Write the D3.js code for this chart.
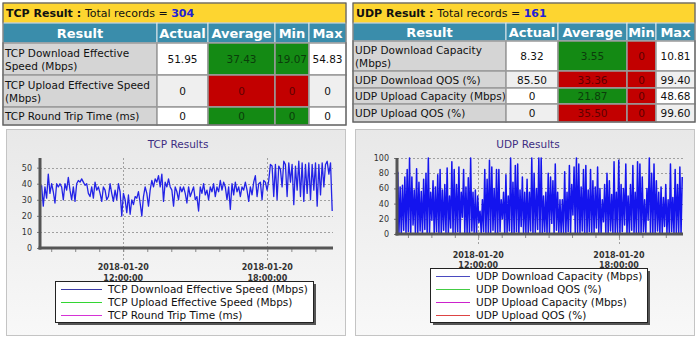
<!DOCTYPE html>
<html><head><meta charset="utf-8">
<script src="https://cdn.jsdelivr.net/npm/d3@7"></script>
<style>html,body{margin:0;padding:0;background:#fff;} svg{display:block;font-family:"DejaVu Sans",Verdana,sans-serif;}</style>
</head><body><svg id="c" width="700" height="340"></svg>
<script>
// ---------------- DATA ----------------
const headers = ["Result", "Actual", "Average", "Min", "Max"];
const tcpTotal = 304, udpTotal = 161;
const tcpLabels = [["TCP Download Effective", "Speed (Mbps)"], ["TCP Upload Effective Speed", "(Mbps)"], ["TCP Round Trip Time (ms)"]];
const tcpActual = ["51.95", "0", "0"];
const tcpAverage = ["37.43", "0", "0"];
const tcpMin = ["19.07", "0", "0"];
const tcpMax = ["54.83", "0", "0"];
const tcpAvgStatus = ["good", "bad", "good"];
const tcpMinStatus = ["good", "bad", "good"];

const udpLabels = [["UDP Download Capacity", "(Mbps)"], ["UDP Download QOS (%)"], ["UDP Upload Capacity (Mbps)"], ["UDP Upload QOS (%)"]];
const udpActual = ["8.32", "85.50", "0", "0"];
const udpAverage = ["3.55", "33.36", "21.87", "35.50"];
const udpMin = ["0", "0", "0", "0"];
const udpMax = ["10.81", "99.40", "48.68", "99.60"];
const udpAvgStatus = ["good", "bad", "good", "bad"];
const udpMinStatus = ["bad", "bad", "bad", "bad"];

const tcpSeries = ["TCP Download Effective Speed (Mbps)", "TCP Upload Effective Speed (Mbps)", "TCP Round Trip Time (ms)"];
const udpSeries = ["UDP Download Capacity (Mbps)", "UDP Download QOS (%)", "UDP Upload Capacity (Mbps)", "UDP Upload QOS (%)"];
const tcpYTicks = [0, 10, 20, 30, 40, 50];
const udpYTicks = [0, 20, 40, 60, 80, 100];
const xTickLabels = [["2018-01-20", "12:00:00"], ["2018-01-20", "18:00:00"]];
const xTickTimes = ["2018-01-20 12:00:00", "2018-01-20 18:00:00"];
const timeDomain = ["2018-01-20 08:32:00", "2018-01-20 20:44:00"];
const tcpFirst = "2018-01-20 08:36:00", tcpLast = "2018-01-20 20:42:00";
const udpFirst = "2018-01-20 08:34:00", udpLast = "2018-01-20 20:42:00";

const tcpDownload = [
 39,26,38,31,46,34,40,35,28,40,38,40,38,30,40,36,44,36,30,38,29,40,42,41,43,41,39,40,34,32,
 38,31,41,36,38,34,29,38,36,30,32,40,34,29,36,30,40,35,20,34,30,22,33,21,30,27,32,
 31,35,28,20,32,38,34,26,36,42,38,43,41,45,38,46,29,41,38,43,38,36,26,38,35,30,38,35,38,34,
 28,38,32,35,38,30,32,23,38,34,40,33,36,30,38,35,40,32,38,35,42,36,41,38,30,38,24,40,33,41,
 35,38,32,38,36,41,
 36,29,38,33,41,45,32,40,41,30,42,41,36,42,
 52,51,32,52,30,51,49,38,54,52,32,53,41,52,27,51,36,54,32,53,29,52,34,53,30,52,36,53,26,52,
 33,53,38,52,54,46,53,23
];

const udpValues = [
 82,2, 62,0, 64,5, 75,1, 85,3, 100,0, 75,12, 58,2, 86,0, 68,4,
 56,1, 72,6, 80,0, 100,2, 55,18, 70,0, 62,3, 78,1, 85,0, 58,5,
 65,2, 87,0, 50,8, 95,1, 85,0, 65,3, 88,0, 55,22, 85,2, 62,1,
 74,0, 100,4, 55,2, 58,0, 50,15, 30,1, 45,3, 85,0, 72,2, 97,0,
 88,5, 60,1, 85,0, 85,3, 45,20, 55,0, 78,2, 50,4, 100,1, 68,0,
 90,3, 92,0, 58,10, 75,2, 55,1, 72,0, 55,4, 100,0, 80,2, 60,6,
 100,0, 100,1, 50,3, 55,0, 80,2, 75,14, 70,0, 92,5, 55,1, 45,0,
 45,2, 82,0, 55,3, 90,1, 65,25, 88,0, 100,2, 92,0, 62,4, 85,1,
 90,0, 58,3, 85,0, 70,2, 62,8, 88,1, 60,0, 45,16, 65,2, 80,0,
 70,4, 52,1, 95,0, 55,2, 97,0, 65,3, 60,12, 92,0, 50,1, 65,5,
 90,0, 55,2, 95,1, 92,0, 75,3, 45,0, 60,18, 100,2, 80,0, 92,1,
 70,4, 55,0, 62,2, 48,10, 65,1, 45,0, 92,3, 48,0, 85,2, 65,1,
 88,0, 75
];

// ---------------- DRAWING ----------------
const svg = d3.select("#c");
const defs = svg.append("defs");
const grad = defs.append("linearGradient").attr("id", "pg").attr("x1", 0).attr("y1", 0).attr("x2", 0).attr("y2", 1);
grad.append("stop").attr("offset", "0%").attr("stop-color", "#e8e8e8");
grad.append("stop").attr("offset", "100%").attr("stop-color", "#f8f8f8");
const parse = d3.timeParse("%Y-%m-%d %H:%M:%S");

const statusFill = { good: "#148a14", bad: "#c20000" };
const statusText = { good: "#0b3d0b", bad: "#5e0000" };

function drawTable(cfg) {
  const g = svg.append("g");
  const c = cfg.cols, x0 = c[0], x1 = c[c.length - 1];
  g.append("rect").attr("x", x0).attr("y", cfg.title[0]).attr("width", x1 - x0).attr("height", cfg.title[1] - cfg.title[0])
    .attr("fill", "#fdd530").attr("stroke", "#a9a07a").attr("stroke-width", 1);
  const t = g.append("text").attr("x", x0 + 3).attr("y", (cfg.title[0] + cfg.title[1]) / 2 + 4).attr("font-size", 11).attr("fill", "#111");
  t.append("tspan").attr("font-weight", "bold").text(cfg.name + " Result : ");
  t.append("tspan").text("Total records = ");
  t.append("tspan").attr("font-weight", "bold").attr("fill", "#2121d6").text(cfg.total);

  const hy0 = cfg.title[1], hy1 = cfg.rows[0];
  const hdr = g.selectAll(".h").data(headers).enter().append("g");
  hdr.append("rect").attr("x", (d, i) => c[i]).attr("y", hy0).attr("width", (d, i) => c[i + 1] - c[i]).attr("height", hy1 - hy0)
    .attr("fill", "#3a8dab").attr("stroke", "#dfe8ec").attr("stroke-width", 1);
  hdr.append("text").attr("x", (d, i) => (c[i] + c[i + 1]) / 2).attr("y", (hy0 + hy1) / 2 + 5)
    .attr("text-anchor", "middle").attr("font-size", 13).attr("font-weight", "bold").attr("fill", "#fff").text(d => d);

  const vals = [cfg.actual, cfg.average, cfg.min, cfg.max];
  const stat = [null, cfg.avgStatus, cfg.minStatus, null];
  cfg.labels.forEach((lab, r) => {
    const y0 = cfg.rows[r], y1 = cfg.rows[r + 1], mid = (y0 + y1) / 2;
    const plain = r % 2 === 0 ? "#ffffff" : "#efefef";
    g.append("rect").attr("x", c[0]).attr("y", y0).attr("width", c[1] - c[0]).attr("height", y1 - y0)
      .attr("fill", "#d5d5d5").attr("stroke", "#9a9a9a").attr("stroke-width", 1.5);
    const lt = g.append("text").attr("font-size", 10.5).attr("fill", "#111");
    lab.forEach((line, li) => {
      lt.append("tspan").attr("x", c[0] + 2).attr("y", mid + 4 - (lab.length - 1) * 6.5 + li * 13).text(line);
    });
    vals.forEach((col, k) => {
      const s = stat[k] ? stat[k][r] : null;
      g.append("rect").attr("x", c[k + 1]).attr("y", y0).attr("width", c[k + 2] - c[k + 1]).attr("height", y1 - y0)
        .attr("fill", s ? statusFill[s] : plain).attr("stroke", "#9a9a9a").attr("stroke-width", 1.5);
      g.append("text").attr("x", (c[k + 1] + c[k + 2]) / 2).attr("y", mid + 4).attr("text-anchor", "middle")
        .attr("font-size", 10.5).attr("fill", s ? statusText[s] : "#111").text(col[r]);
    });
  });
  g.append("rect").attr("x", x0).attr("y", cfg.title[0]).attr("width", x1 - x0).attr("height", cfg.rows[cfg.rows.length - 1] - cfg.title[0])
    .attr("fill", "none").attr("stroke", "#5a5a5a").attr("stroke-width", 1);
}

drawTable({ name: "TCP", total: tcpTotal, cols: [3, 157, 208, 275, 309, 346], title: [3, 23], rows: [43, 75, 107, 125],
  labels: tcpLabels, actual: tcpActual, average: tcpAverage, min: tcpMin, max: tcpMax, avgStatus: tcpAvgStatus, minStatus: tcpMinStatus });
drawTable({ name: "UDP", total: udpTotal, cols: [353, 506, 558, 627, 656, 695], title: [3, 23], rows: [41, 71, 88, 104, 122],
  labels: udpLabels, actual: udpActual, average: udpAverage, min: udpMin, max: udpMax, avgStatus: udpAvgStatus, minStatus: udpMinStatus });

function drawChart(cfg) {
  const g = svg.append("g");
  const p = cfg.panel;
  g.append("rect").attr("x", p[0] + 0.5).attr("y", p[1] + 0.5).attr("width", p[2]).attr("height", p[3])
    .attr("fill", "url(#pg)").attr("stroke", "#c4c4c4");
  g.append("text").attr("x", cfg.titleX).attr("y", 148).attr("text-anchor", "middle").attr("font-size", 10.5)
    .attr("fill", "#3d2d82").text(cfg.title);

  const x = d3.scaleTime().domain(timeDomain.map(parse)).range([cfg.left, cfg.right]);
  const y = d3.scaleLinear().domain(cfg.yDomain).range([cfg.bottom, cfg.top]);

  g.selectAll(".hg").data(cfg.yTicks.filter(v => v > 0)).enter().append("line")
    .attr("x1", cfg.left).attr("x2", cfg.right).attr("y1", d => Math.round(y(d)) + 0.5).attr("y2", d => Math.round(y(d)) + 0.5)
    .attr("stroke", "#a0a0a0").attr("stroke-dasharray", "2,2");
  g.selectAll(".vg").data(xTickTimes).enter().append("line")
    .attr("x1", d => Math.round(x(parse(d))) + 0.5).attr("x2", d => Math.round(x(parse(d))) + 0.5)
    .attr("y1", cfg.top).attr("y2", cfg.bottom + 12)
    .attr("stroke", "#a0a0a0").attr("stroke-dasharray", "2,2");

  const t0 = parse(cfg.first).getTime(), t1 = parse(cfg.last).getTime();
  const n = cfg.values.length;
  const pts = cfg.values.map((v, i) => ({ t: new Date(t0 + (t1 - t0) * i / (n - 1)), v }));
  g.append("path").datum(pts)
    .attr("d", d3.line().x(d => x(d.t)).y(d => y(d.v)))
    .attr("fill", "none").attr("stroke", cfg.lineColor).attr("stroke-width", cfg.lineWidth).attr("stroke-linejoin", "round");

  const ya = g.append("g").attr("transform", `translate(${cfg.left},0)`)
    .call(d3.axisLeft(y).tickValues(cfg.yTicks).tickSize(3).tickPadding(5));
  ya.select(".domain").remove();
  ya.selectAll(".tick line").attr("stroke", "#777");
  ya.selectAll("text").attr("font-size", 8).attr("fill", "#333").attr("font-family", "DejaVu Sans");
  g.append("line").attr("x1", cfg.left).attr("x2", cfg.left).attr("y1", cfg.top).attr("y2", cfg.bottom + 1.5)
    .attr("stroke", "#555").attr("stroke-width", 3);

  const xa = g.append("g").attr("transform", `translate(0,${cfg.bottom})`)
    .call(d3.axisBottom(x).ticks(d3.timeHour.every(1)).tickSize(4).tickFormat(""));
  xa.select(".domain").remove();
  xa.selectAll(".tick line").attr("stroke", "#888");
  g.append("line").attr("x1", cfg.left - 1.5).attr("x2", cfg.right).attr("y1", cfg.bottom).attr("y2", cfg.bottom)
    .attr("stroke", "#555").attr("stroke-width", 3);

  xTickTimes.forEach((tt, i) => {
    const tx = x(parse(tt));
    xTickLabels[i].forEach((s, li) => {
      g.append("text").attr("x", tx).attr("y", cfg.bottom + cfg.labelDy[li]).attr("text-anchor", "middle")
        .attr("font-size", 8).attr("font-weight", "bold").attr("fill", "#333").text(s);
    });
  });

  const L = cfg.legend;
  g.append("rect").attr("x", L.x + 3).attr("y", L.y + 3).attr("width", L.w).attr("height", L.h).attr("fill", "#555");
  g.append("rect").attr("x", L.x + 0.5).attr("y", L.y + 0.5).attr("width", L.w).attr("height", L.h).attr("fill", "#fff").attr("stroke", "#222");
  const items = g.selectAll(".lg").data(cfg.series).enter().append("g");
  items.append("line").attr("x1", L.lx0).attr("x2", L.lx1)
    .attr("y1", (d, i) => L.ry[i] + 0.5).attr("y2", (d, i) => L.ry[i] + 0.5)
    .attr("stroke", (d, i) => cfg.colors[i]).attr("stroke-width", 1.2);
  items.append("text").attr("x", L.tx).attr("y", (d, i) => L.ry[i] + 4).attr("font-size", 10.5).attr("fill", "#111").text(d => d);
}

drawChart({ panel: [6, 129, 339, 206], title: "TCP Results", titleX: 178,
  left: 40, right: 333, top: 158, bottom: 248, yDomain: [0, 56], yTicks: tcpYTicks,
  values: tcpDownload, first: tcpFirst, last: tcpLast, lineColor: "#2323e6", lineWidth: 1.3,
  labelDy: [22, 33], series: tcpSeries, colors: ["#3b3ba6", "#33d633", "#d633d6"],
  legend: { x: 55, y: 281, w: 258, h: 41, lx0: 61, lx1: 102, tx: 108, ry: [289, 302, 315] } });

drawChart({ panel: [355, 129, 339, 206], title: "UDP Results", titleX: 528,
  left: 397, right: 683, top: 158, bottom: 234, yDomain: [0, 100], yTicks: udpYTicks,
  values: udpValues, first: udpFirst, last: udpLast, lineColor: "#1414ee", lineWidth: 1.5,
  labelDy: [24, 34], series: udpSeries, colors: ["#4a4ac0", "#44cc44", "#cc22cc", "#dd4444"],
  legend: { x: 430, y: 268, w: 217, h: 54, lx0: 436, lx1: 470, tx: 476, ry: [276, 289, 302, 315] } });
</script>
</body></html>
